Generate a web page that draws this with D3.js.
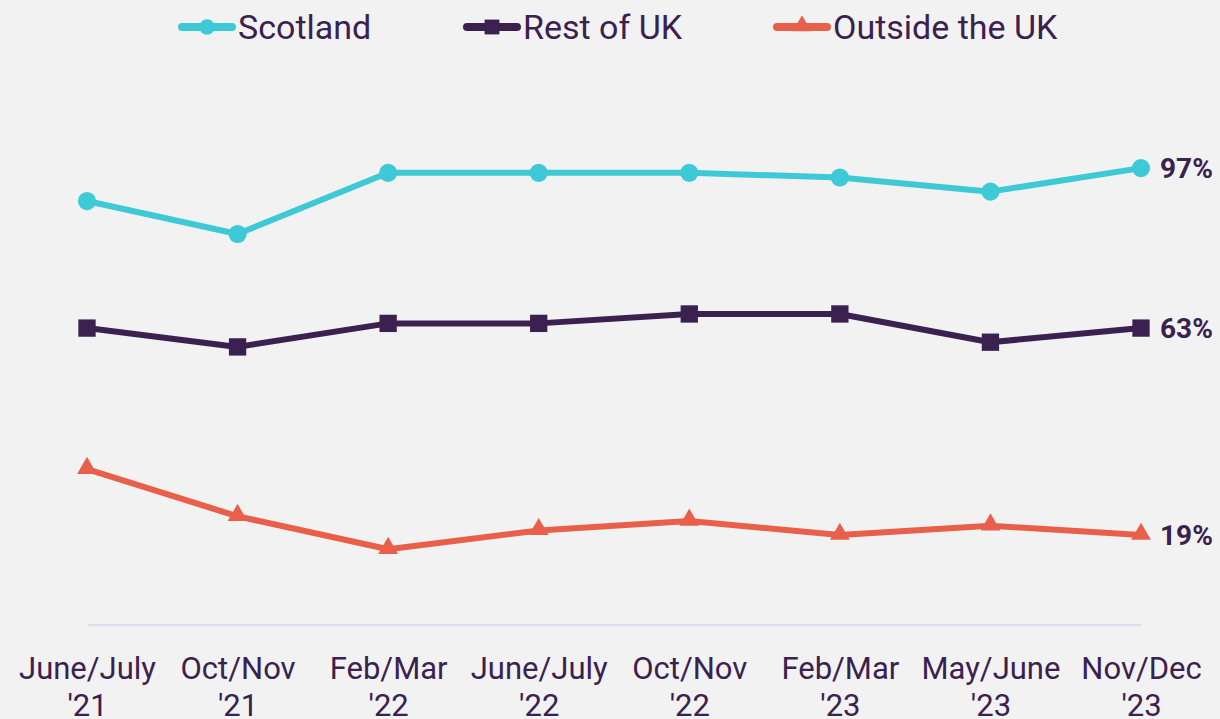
<!DOCTYPE html>
<html>
<head>
<meta charset="utf-8">
<script src="https://cdn.jsdelivr.net/npm/d3@7"></script>
<style>
  html, body { margin: 0; padding: 0; background: #f2f2f2; }
  svg { display: block; }
  text { font-family: Roboto, "Noto Sans", sans-serif; }
</style>
</head>
<body>
<svg id="chart" width="1220" height="719"></svg>
<script>
const categories = ["June/July\n'21", "Oct/Nov\n'21", "Feb/Mar\n'22", "June/July\n'22", "Oct/Nov\n'22", "Feb/Mar\n'23", "May/June\n'23", "Nov/Dec\n'23"];
const scotland = [90, 83, 96, 96, 96, 95, 92, 97];
const restOfUK = [63, 59, 64, 64, 66, 66, 60, 63];
const outsideUK = [33, 23, 16, 20, 22, 19, 21, 19];
const seriesNames = ["Scotland", "Rest of UK", "Outside the UK"];
const colors = ["#3ec9d6", "#3a2150", "#e8604a"];
const symbols = [d3.symbolCircle, d3.symbolSquare, d3.symbolTriangle];

const series = [scotland, restOfUK, outsideUK].map((vals, i) => ({
  name: seriesNames[i], values: vals, color: colors[i], symbol: symbols[i]
}));

const svg = d3.select("#chart");
const textColor = "#3a2150";

const x = d3.scalePoint().domain(categories).range([87, 1141]);
const y = d3.scaleLinear().domain([0, 100]).range([624.5, 154]);

// x axis
const xAxis = svg.append("g")
  .attr("transform", "translate(0,624.5)")
  .call(d3.axisBottom(x).tickSize(0).tickPadding(0));
xAxis.select(".domain").attr("stroke", "#e2dbf0").attr("stroke-width", 2);
xAxis.selectAll(".tick text").each(function(d) {
  const t = d3.select(this);
  t.text(null).attr("y", 0).attr("dy", null)
    .attr("fill", textColor).attr("font-size", 31)
    .attr("font-family", "Roboto, sans-serif");
  d.split("\n").forEach((line, i) => {
    t.append("tspan").attr("x", 0).attr("y", 54 + i * 37).text(line);
  });
});

const line = d3.line().x((d, i) => x(categories[i])).y(d => y(d));

series.forEach(s => {
  svg.append("path")
    .datum(s.values)
    .attr("fill", "none")
    .attr("stroke", s.color)
    .attr("stroke-width", 6)
    .attr("stroke-linejoin", "round")
    .attr("d", line);
  const sym = d3.symbol().type(s.symbol).size(s.symbol === d3.symbolTriangle ? 170 : (s.symbol === d3.symbolSquare ? 300 : 260));
  svg.append("g").selectAll("path")
    .data(s.values)
    .join("path")
    .attr("transform", (d, i) => `translate(${x(categories[i])},${y(d) + (s.symbol === d3.symbolTriangle ? -1 : 0)})`)
    .attr("d", sym)
    .attr("fill", s.color);
  const last = s.values[s.values.length - 1];
  svg.append("text")
    .attr("x", x(categories[categories.length - 1]) + 19)
    .attr("y", y(last))
    .attr("dy", "0.36em")
    .attr("font-size", 28)
    .attr("font-weight", "bold")
    .attr("fill", textColor)
    .text(last + "%");
});

// legend
const legendX = [178, 463, 773];
series.forEach((s, i) => {
  const g = svg.append("g").attr("transform", `translate(${legendX[i]},27)`);
  g.append("line").attr("x1", 4).attr("x2", 54).attr("y1", 0).attr("y2", 0)
    .attr("stroke", s.color).attr("stroke-width", 8).attr("stroke-linecap", "round");
  const size = s.symbol === d3.symbolTriangle ? 150 : (s.symbol === d3.symbolSquare ? 220 : 190);
  g.append("path").attr("transform", `translate(29,${s.symbol === d3.symbolTriangle ? -1 : 0})`)
    .attr("d", d3.symbol().type(s.symbol).size(size)).attr("fill", s.color);
  g.append("text").attr("x", 60).attr("y", 0).attr("dy", "0.36em")
    .attr("font-size", 34).attr("fill", textColor).text(s.name);
});
</script>
</body>
</html>
